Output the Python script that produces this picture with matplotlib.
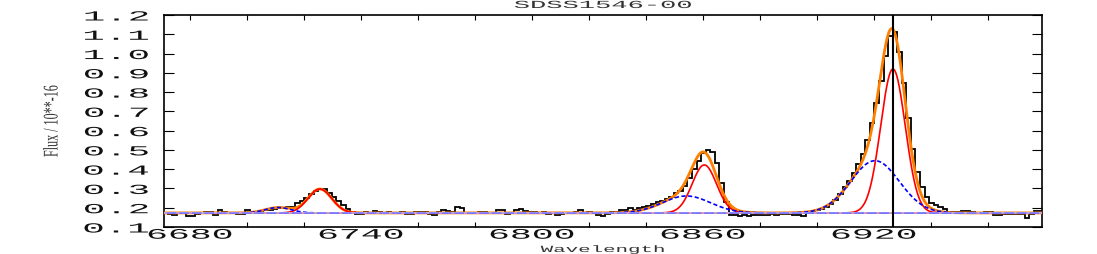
import numpy as np
import matplotlib
matplotlib.use("Agg")
import matplotlib.pyplot as plt
from matplotlib.patheffects import AbstractPathEffect
from matplotlib.transforms import Affine2D

# ---------------- data ----------------
wave_start = 6670.6      # left edge of first bin (Angstrom)
bin_width = 1.6
flux = [
    0.172, 0.168, 0.160, 0.172, 0.172, 0.158, 0.158, 0.168, 0.172, 0.176,
    0.176, 0.160, 0.186, 0.180, 0.172, 0.172, 0.167, 0.165, 0.186, 0.180,
    0.180, 0.178, 0.186, 0.190, 0.195, 0.198, 0.200, 0.202, 0.204, 0.222,
    0.235, 0.252, 0.270, 0.288, 0.298, 0.296, 0.276, 0.258, 0.236, 0.214,
    0.194, 0.177, 0.166, 0.168, 0.176, 0.174, 0.183, 0.178, 0.174, 0.176,
    0.172, 0.173, 0.176, 0.168, 0.170, 0.180, 0.180, 0.176, 0.166, 0.162,
    0.180, 0.186, 0.185, 0.176, 0.202, 0.198, 0.174, 0.172, 0.173, 0.176,
    0.180, 0.174, 0.172, 0.190, 0.190, 0.170, 0.174, 0.190, 0.192, 0.182,
    0.178, 0.178, 0.172, 0.178, 0.168, 0.172, 0.162, 0.168, 0.172, 0.174,
    0.180, 0.186, 0.175, 0.178, 0.174, 0.160, 0.158, 0.168, 0.176, 0.180,
    0.186, 0.190, 0.196, 0.190, 0.197, 0.202, 0.210, 0.218, 0.228, 0.236,
    0.244, 0.258, 0.275, 0.289, 0.314, 0.355, 0.400, 0.445, 0.485, 0.499,
    0.488, 0.430, 0.330, 0.230, 0.160, 0.160, 0.158, 0.160, 0.158, 0.160,
    0.162, 0.162, 0.160, 0.166, 0.162, 0.165, 0.168, 0.170, 0.163, 0.163,
    0.156, 0.180, 0.184, 0.188, 0.194, 0.202, 0.219, 0.242, 0.272, 0.305,
    0.340, 0.378, 0.425, 0.480, 0.550, 0.640, 0.745, 0.860, 0.985, 1.090,
    1.112, 1.010, 0.845, 0.665, 0.505, 0.385, 0.305, 0.255, 0.222, 0.212,
    0.205, 0.195, 0.178, 0.176, 0.180, 0.183, 0.182, 0.176, 0.173, 0.173,
    0.180, 0.180, 0.160, 0.162, 0.166, 0.166, 0.168, 0.170, 0.170, 0.148,
    0.165, 0.185, 0.182,
]

continuum = 0.173
narrow_centers = [6725.6, 6860.5, 6926.7]
narrow_amps = [0.124, 0.249, 0.747]
narrow_sigmas = [4.17, 4.26, 4.30]
broad_centers = [6711.0, 6854.2, 6920.4]
broad_amps = [0.028, 0.088, 0.271]
broad_sigmas = [4.5, 8.4, 8.5]
marker_wave = 6926.7

x_range = [6670.9, 6979.0]
y_range = [0.1, 1.2]
xtick_major = [6680, 6740, 6800, 6860, 6920]
xtick_labels = ["6680", "6740", "6800", "6860", "6920"]
xtick_minor = [6700, 6720, 6760, 6780, 6820, 6840, 6880, 6900, 6940, 6960]
ytick_vals = [0.1, 0.2, 0.3, 0.4, 0.5, 0.6, 0.7, 0.8, 0.9, 1.0, 1.1, 1.2]
ytick_labels = ["0.1", "0.2", "0.3", "0.4", "0.5", "0.6", "0.7", "0.8",
                "0.9", "1.0", "1.1", "1.2"]
title = "SDSS1546-00"
xlabel = "Wavelength"
ylabel = "Flux / 10**-16"


# ---------------- helper: horizontally stretched text ----------------
class Stretch(AbstractPathEffect):
    def __init__(self, sx, anchor="center"):
        super().__init__()
        self.sx = sx
        self.anchor = anchor

    def draw_path(self, renderer, gc, tpath, affine, rgbFace=None):
        ext = tpath.get_extents()
        if self.anchor == "right":
            cx = ext.x1
        elif self.anchor == "left":
            cx = ext.x0
        else:
            cx = 0.5 * (ext.x0 + ext.x1)
        t = Affine2D().translate(-cx, 0).scale(self.sx, 1.0).translate(cx, 0) + affine
        renderer.draw_path(gc, tpath, t, rgbFace)


mono = ["Liberation Mono", "DejaVu Sans Mono"]

# ---------------- figure ----------------
fig = plt.figure(figsize=(10.97, 2.55), dpi=100)
ax = fig.add_axes([164 / 1097, 1 - 228 / 255, (1042 - 164) / 1097, (228 - 16) / 255])

edges = wave_start + bin_width * np.arange(len(flux) + 1)
xf = np.linspace(x_range[0], x_range[1], 3000)


def gauss(x, c, a, s):
    return a * np.exp(-0.5 * ((x - c) / s) ** 2)


narrow = [continuum + gauss(xf, c, a, s) for c, a, s in zip(narrow_centers, narrow_amps, narrow_sigmas)]
broad = [continuum + gauss(xf, c, a, s) for c, a, s in zip(broad_centers, broad_amps, broad_sigmas)]
total = continuum + sum(gauss(xf, c, a, s) for c, a, s in zip(narrow_centers, narrow_amps, narrow_sigmas)) \
    + sum(gauss(xf, c, a, s) for c, a, s in zip(broad_centers, broad_amps, broad_sigmas))

ax.stairs(flux, edges, color="black", lw=1.3, zorder=3)
ax.plot(xf, total, color="#ff7f00", lw=2.0, zorder=4)
for n in narrow:
    ax.plot(xf, n, color="#ff0000", lw=1.2, zorder=5)
for b in broad:
    ax.plot(xf, b, color="#0000ff", lw=1.2, ls=(0, (2.5, 1.5)), zorder=6)
cont_line = np.full_like(xf, continuum)
ax.plot(xf, cont_line, color="#8c8cff", lw=1.3, zorder=7)
ax.plot(xf, cont_line, color="#ffa8a0", lw=1.0, ls=(0, (2, 7)), zorder=7.5)
ax.axvline(marker_wave, color="black", lw=1.5, zorder=8)

ax.set_xlim(*x_range)
ax.set_ylim(*y_range)

ax.set_xticks(xtick_major, xtick_labels)
ax.set_xticks(xtick_minor, minor=True)
ax.set_yticks(ytick_vals, ytick_labels)

ax.tick_params(axis="x", which="both", direction="in", top=True, length=3.5, width=0.8,
               pad=0.5, labelsize=10.5)
ax.tick_params(axis="x", which="major", bottom=False)
ax.tick_params(axis="y", which="major", direction="in", right=True, length=7.5, width=0.8,
               pad=11, labelsize=10)
for sp in ax.spines.values():
    sp.set_linewidth(1.2)

for lbl in ax.get_xticklabels():
    lbl.set_family(mono)
    lbl.set_color("#111111")
    lbl.set_path_effects([Stretch(2.5, "center")])
for lbl in ax.get_yticklabels():
    lbl.set_family(mono)
    lbl.set_color("#111111")
    lbl.set_path_effects([Stretch(2.7, "right")])

cx = (164 + 1042) / 2 / 1097
fig.text(cx, 1 - 9 / 255, title, ha="center", va="baseline", fontsize=7.8,
         family=mono, color="#333333", path_effects=[Stretch(2.5, "center")])
fig.text(cx, 1 - 253 / 255, xlabel, ha="center", va="baseline", fontsize=6.8,
         family=mono, color="#333333", path_effects=[Stretch(2.2, "center")])
fig.text(53 / 1097, 1 - 122 / 255, ylabel, ha="center", va="center", rotation=90,
         fontsize=15, family=["Liberation Serif", "DejaVu Serif"], color="#333333",
         path_effects=[Stretch(0.58, "center")])

fig.savefig("out.png", dpi=100)
